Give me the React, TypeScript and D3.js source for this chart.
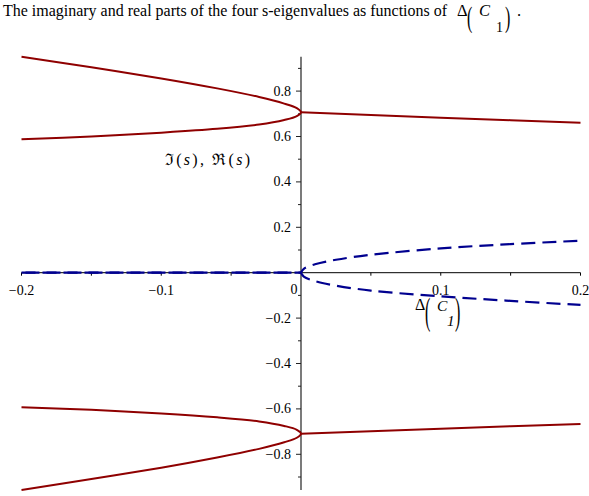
import React from "react";
import * as d3 from "d3";

// Parameter values Δ(C1) sampled left of the branch point (ascending, ending at 0)
const leftX = [-0.2, -0.15, -0.1, -0.06, -0.03, -0.012, -0.003, 0];
// Imaginary parts of the two upper eigenvalues for Δ(C1) < 0
const imUpperOuter = [0.951, 0.905, 0.856, 0.812, 0.774, 0.745, 0.725, 0.707];
const imUpperInner = [0.588, 0.6, 0.617, 0.634, 0.653, 0.673, 0.69, 0.707];
// Imaginary parts of the two lower eigenvalues for Δ(C1) < 0
const imLowerInner = [-0.593, -0.604, -0.62, -0.637, -0.655, -0.675, -0.692, -0.709];
const imLowerOuter = [-0.957, -0.909, -0.859, -0.814, -0.776, -0.747, -0.727, -0.709];

// Imaginary parts for Δ(C1) > 0 (pairs coincide)
const rightX = [0, 0.05, 0.1, 0.15, 0.2];
const imUpperRight = [0.707, 0.695, 0.683, 0.672, 0.661];
const imLowerRight = [-0.709, -0.698, -0.687, -0.676, -0.666];

// Real parts: zero for Δ(C1) < 0, splitting for Δ(C1) > 0
const reLeftX = [-0.2, 0];
const reLeft = [0, 0];
const reRightX = [0, 0.002, 0.01, 0.025, 0.05, 0.1, 0.15, 0.2];
const reUpper = [0, 0.017, 0.037, 0.057, 0.079, 0.107, 0.126, 0.141];
const reLower = [0, -0.017, -0.037, -0.057, -0.079, -0.104, -0.124, -0.142];

// Axis ticks
const xMajor = [-0.2, -0.1, 0.1, 0.2];
const xMinor = [-0.15, -0.05, 0.05, 0.15];
const xTickLabels = ["−0.2", "−0.1", "0.1", "0.2"];
const yMajor = [-0.8, -0.6, -0.4, -0.2, 0.2, 0.4, 0.6, 0.8];
const yMinor = [-0.9, -0.7, -0.5, -0.3, -0.1, 0.1, 0.3, 0.5, 0.7, 0.9];
const yTickLabels = ["−0.8", "−0.6", "−0.4", "−0.2", "0.2", "0.4", "0.6", "0.8"];
const yAxisExtent = [-0.957, 0.951];

const W = 589;
const H = 496;
const SERIF = "Liberation Serif";
const RED = "#8f0000";
const BLUE = "#00008f";

export default function App() {
  const x = d3.scaleLinear().domain([-0.2, 0.2]).range([21.5, 580.5]);
  const y = d3.scaleLinear().domain([0, 1]).range([272.7, 45.7]);

  const smooth = d3
    .line<[number, number]>()
    .x((d) => x(d[0]))
    .y((d) => y(d[1]))
    .curve(d3.curveCatmullRom.alpha(0.5));
  const straight = d3
    .line<[number, number]>()
    .x((d) => x(d[0]))
    .y((d) => y(d[1]));

  const zip = (xs: number[], ys: number[]) => xs.map((v, i) => [v, ys[i]] as [number, number]);

  // left branch: outer arm in to the branch point, then inner arm back out
  const loop = (outer: number[], inner: number[]) => {
    const a = zip(leftX, outer);
    const b = zip(leftX, inner).reverse().slice(1);
    return smooth([...a, ...b]) as string;
  };

  // real part: flat segment then the smooth split, as one continuous path
  const rePath = (vals: number[]) => {
    const left = straight(zip(reLeftX, reLeft)) as string;
    const right = (smooth(zip(reRightX, vals)) as string).replace(/^M[^A-Za-z]*/, "");
    return left + right;
  };

  const x0 = x(0);
  const txt = { fontFamily: SERIF };

  return (
    <svg
      width={W}
      height={H}
      style={{ position: "absolute", left: 0, top: 0, background: "#fff", fontFamily: SERIF }}
    >
      {/* title */}
      <text x={3} y={15.5} fontSize={16.3} textLength={444} lengthAdjust="spacingAndGlyphs" style={txt}>
        The imaginary and real parts of the four s-eigenvalues as functions of
      </text>
      <text x={457} y={15.5} fontSize={16.5} style={txt}>Δ</text>
      <text transform="translate(467,27) scale(1,1.9)" fontSize={16} style={txt}>(</text>
      <text x={479} y={15.5} fontSize={16.5} fontStyle="italic" style={txt}>C</text>
      <text x={496} y={32} fontSize={14} style={txt}>1</text>
      <text transform="translate(505,27) scale(1,1.9)" fontSize={16} style={txt}>)</text>
      <text x={517} y={15.5} fontSize={16.5} style={txt}>.</text>

      {/* x axis */}
      <line x1={x(-0.2)} x2={x(0.2)} y1={y(0)} y2={y(0)} stroke="#000" strokeWidth={1} />
      {xMajor.concat(xMinor).map((t) => (
        <line key={"xt" + t} x1={x(t)} x2={x(t)} y1={y(0)} y2={y(0) + 3} stroke="#000" />
      ))}
      {xMajor.map((t, i) => (
        <text key={"xl" + t} x={x(t)} y={294.5} fontSize={14} textAnchor="middle" style={txt}>
          {xTickLabels[i]}
        </text>
      ))}
      <text x={x0 - 7} y={293.5} fontSize={14} textAnchor="middle" style={txt}>0</text>

      {/* y axis */}
      <line x1={x0} x2={x0} y1={y(yAxisExtent[1])} y2={y(yAxisExtent[0])} stroke="#222" strokeWidth={1.2} />
      {yMajor.map((t) => (
        <line key={"ym" + t} x1={x0 - 5} x2={x0} y1={y(t)} y2={y(t)} stroke="#222" />
      ))}
      {yMinor.map((t) => (
        <line key={"yn" + t} x1={x0 - 3} x2={x0} y1={y(t)} y2={y(t)} stroke="#222" />
      ))}
      {yMajor.map((t, i) => (
        <text key={"yl" + t} x={291} y={y(t) + 4.5} fontSize={14} textAnchor="end" style={txt}>
          {yTickLabels[i]}
        </text>
      ))}

      {/* axis titles */}
      <text x={165} y={165} fontSize={16} textLength={85} lengthAdjust="spacing" style={txt}>
        <tspan>ℑ(</tspan>
        <tspan fontStyle="italic">s</tspan>
        <tspan>), ℜ(</tspan>
        <tspan fontStyle="italic">s</tspan>
        <tspan>)</tspan>
      </text>
      <text x={415} y={310} fontSize={16} style={txt}>Δ</text>
      <text transform="translate(425,323.5) scale(1,2.4)" fontSize={16} style={txt}>(</text>
      <text x={437} y={311} fontSize={15.5} fontStyle="italic" style={txt}>C</text>
      <text x={447} y={326} fontSize={15} fontStyle="italic" style={txt}>1</text>
      <text transform="translate(455,323.5) scale(1,2.4)" fontSize={16} style={txt}>)</text>

      {/* imaginary parts */}
      <g fill="none" stroke={RED} strokeWidth={2}>
        <path d={loop(imUpperOuter, imUpperInner)} />
        <path d={straight(zip(rightX, imUpperRight)) as string} />
        <path d={loop(imLowerOuter, imLowerInner)} />
        <path d={straight(zip(rightX, imLowerRight)) as string} />
      </g>

      {/* real parts */}
      <g fill="none" stroke={BLUE} strokeWidth={2.2} strokeDasharray="14 7">
        <path d={rePath(reUpper)} />
        <path d={rePath(reLower)} strokeDashoffset={-4} />
      </g>
    </svg>
  );
}
